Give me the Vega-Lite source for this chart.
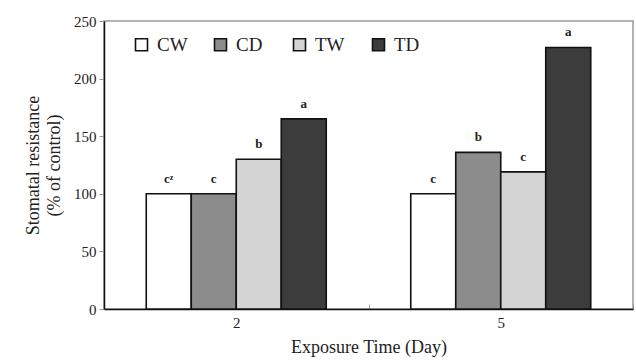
{
  "$schema": "https://vega.github.io/schema/vega-lite/v6.json",
  "width": 529,
  "height": 288,
  "autosize": {"type": "none"},
  "padding": {"left": 104, "top": 21, "right": 3, "bottom": 51},
  "background": "white",
  "config": {
    "font": "Liberation Serif",
    "view": {"stroke": "#999999", "strokeWidth": 1.5},
    "axis": {"labelFont": "Liberation Serif", "titleFont": "Liberation Serif", "labelColor": "#222222", "titleColor": "#222222", "titleFontWeight": "normal", "domainColor": "#111111", "domainWidth": 1.5, "tickColor": "#999999", "grid": false},
    "legend": {"labelFont": "Liberation Serif"}
  },
  "data": {
    "values": [
      {"Day": "2", "Treatment": "CW", "value": 100, "label": "cᶻ"},
      {"Day": "2", "Treatment": "CD", "value": 100, "label": "c"},
      {"Day": "2", "Treatment": "TW", "value": 130, "label": "b"},
      {"Day": "2", "Treatment": "TD", "value": 165, "label": "a"},
      {"Day": "5", "Treatment": "CW", "value": 100, "label": "c"},
      {"Day": "5", "Treatment": "CD", "value": 136, "label": "b"},
      {"Day": "5", "Treatment": "TW", "value": 119, "label": "c"},
      {"Day": "5", "Treatment": "TD", "value": 227, "label": "a"}
    ]
  },
  "encoding": {
    "x": {
      "field": "Day", "type": "nominal",
      "scale": {"paddingInner": 0, "paddingOuter": 0},
      "axis": {"title": "Exposure Time (Day)", "labelAngle": 0, "labelFont": "Liberation Serif", "titleFont": "Liberation Serif", "labelFontSize": 15, "titleFontSize": 18, "labelPadding": 11, "titlePadding": 8, "tickBand": "extent", "tickSize": -5, "ticks": true}
    },
    "xOffset": {
      "field": "Treatment", "type": "nominal", "sort": ["CW", "CD", "TW", "TD"],
      "scale": {"paddingInner": 0, "paddingOuter": 0.939}
    },
    "y": {
      "field": "value", "type": "quantitative",
      "scale": {"domain": [0, 250], "nice": false},
      "axis": {"title": ["Stomatal resistance", "(% of control)"], "values": [0, 50, 100, 150, 200, 250], "labelFont": "Liberation Serif", "titleFont": "Liberation Serif", "labelFontSize": 15, "titleFontSize": 18, "tickSize": 5, "labelPadding": 3, "titlePadding": 10, "titleLineHeight": 21}
    }
  },
  "layer": [
    {
      "mark": {"type": "bar", "stroke": "#111111", "strokeWidth": 1.6},
      "encoding": {
        "fill": {
          "field": "Treatment", "type": "nominal", "sort": ["CW", "CD", "TW", "TD"],
          "scale": {"domain": ["CW", "CD", "TW", "TD"], "range": ["#ffffff", "#8c8c8c", "#d4d4d4", "#3c3c3c"]},
          "legend": {
            "title": null, "orient": "none", "legendX": 28, "legendY": 14,
            "direction": "horizontal", "columns": 4, "gridAlign": "all", "columnPadding": 23,
            "symbolType": "square", "symbolSize": 144, "symbolStrokeColor": "#111111", "symbolStrokeWidth": 1.6,
            "labelFont": "Liberation Serif", "labelFontSize": 19, "labelColor": "#222222", "labelOffset": 6
          }
        }
      }
    },
    {
      "mark": {"type": "text", "baseline": "alphabetic", "dy": -11, "fontWeight": "bold", "fontSize": 13, "font": "Liberation Serif", "color": "#222222"},
      "encoding": {
        "text": {"field": "label"}
      }
    }
  ]
}
